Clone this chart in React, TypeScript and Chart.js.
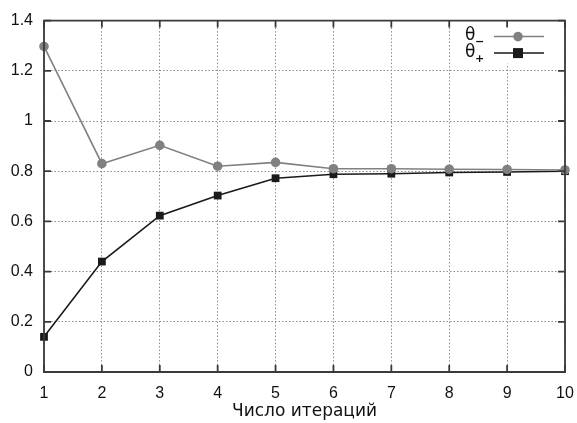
import React, { useEffect, useRef } from "react";
import { Chart, registerables } from "chart.js";
Chart.register(...registerables);

const iterations = [1, 2, 3, 4, 5, 6, 7, 8, 9, 10];
const thetaMinus = [1.297, 0.83, 0.903, 0.82, 0.835, 0.81, 0.81, 0.808, 0.807, 0.805];
const thetaPlus = [0.14, 0.44, 0.623, 0.703, 0.772, 0.788, 0.79, 0.795, 0.797, 0.8];
const yTickLabels = ["0", "0.2", "0.4", "0.6", "0.8", "1", "1.2", "1.4"];
const seriesNames = ["θ", "θ"];
const seriesSubs = ["−", "+"];
const xTitle = "Число итераций";

const TICKFONT = "'Liberation Sans', Arial, sans-serif";
const TITLEFONT = "'DejaVu Sans', sans-serif";
const GRAY = "#808080";
const DARK = "#1a1a1a";
const FRAME = "#3a3a3a";

const framePlugin = {
  id: "gnuFrame",
  beforeDatasetsDraw(chart: any) {
    const { ctx, chartArea: a } = chart;
    ctx.save();
    ctx.fillStyle = "#ffffff";
    ctx.fillRect(a.right - 105, a.top, 105, 43);
    ctx.restore();
  },
  afterDraw(chart: any) {
    const { ctx, chartArea: a, scales } = chart;
    const xs = scales.x;
    const ys = scales.y;
    ctx.save();
    ctx.strokeStyle = FRAME;
    ctx.lineWidth = 1.8;
    ctx.beginPath();
    ctx.rect(a.left, a.top, a.right - a.left, a.bottom - a.top);
    ctx.stroke();
    const tl = 7;
    ctx.beginPath();
    iterations.forEach((v) => {
      const px = xs.getPixelForValue(v);
      ctx.moveTo(px, a.bottom);
      ctx.lineTo(px, a.bottom - tl);
      ctx.moveTo(px, a.top);
      ctx.lineTo(px, a.top + tl);
    });
    yTickLabels.forEach((l) => {
      const py = ys.getPixelForValue(Number(l));
      ctx.moveTo(a.left, py);
      ctx.lineTo(a.left + tl, py);
      ctx.moveTo(a.right, py);
      ctx.lineTo(a.right - tl, py);
    });
    ctx.stroke();

    // legend
    const items = [
      { color: GRAY, shape: "circle" },
      { color: DARK, shape: "rect" },
    ];
    items.forEach((it, i) => {
      const cy = a.top + 16 + i * 16.5;
      ctx.fillStyle = "#111";
      ctx.font = `17px ${TITLEFONT}`;
      ctx.textBaseline = "middle";
      ctx.textAlign = "left";
      ctx.fillText(seriesNames[i], a.right - 100, cy - 1);
      ctx.font = `bold 11px ${TITLEFONT}`;
      ctx.fillText(seriesSubs[i], a.right - 90, cy + 6);
      ctx.strokeStyle = it.color;
      ctx.lineWidth = 1.5;
      ctx.beginPath();
      ctx.moveTo(a.right - 71, cy);
      ctx.lineTo(a.right - 21, cy);
      ctx.stroke();
      ctx.fillStyle = it.color;
      const mx = a.right - 47;
      if (it.shape === "circle") {
        ctx.beginPath();
        ctx.arc(mx, cy, 4.8, 0, Math.PI * 2);
        ctx.fill();
      } else {
        ctx.fillRect(mx - 5, cy - 5, 10, 10);
      }
    });
    ctx.restore();
  },
};

export default function App() {
  const ref = useRef<HTMLCanvasElement>(null);
  useEffect(() => {
    document.body.style.margin = "0";
    const chart = new Chart(ref.current!, {
      type: "line",
      data: {
        datasets: [
          {
            label: "θ₋",
            data: iterations.map((x, i) => ({ x, y: thetaMinus[i] })),
            borderColor: GRAY,
            backgroundColor: GRAY,
            borderWidth: 1.6,
            pointStyle: "circle",
            pointRadius: 4.8,
            pointBorderWidth: 0,
            clip: false,
          },
          {
            label: "θ₊",
            data: iterations.map((x, i) => ({ x, y: thetaPlus[i] })),
            borderColor: DARK,
            backgroundColor: DARK,
            borderWidth: 1.6,
            pointStyle: "rect",
            pointRadius: 5.5,
            pointBorderWidth: 0,
            clip: false,
          },
        ] as any,
      },
      options: {
        animation: false,
        responsive: false,
        maintainAspectRatio: false,
        layout: { padding: { left: 0, top: 20, right: 12, bottom: 0 } },
        plugins: { legend: { display: false }, tooltip: { enabled: false } },
        scales: {
          x: {
            type: "linear",
            min: 1,
            max: 10,
            afterBuildTicks: (s: any) => {
              s.ticks = iterations.map((v) => ({ value: v }));
            },
            afterFit: (s: any) => {
              s.height = 51;
              s.paddingRight = 0;
              s.paddingLeft = 0;
            },
            ticks: {
              padding: 12,
              color: "#111",
              font: { family: TICKFONT, size: 16 },
              maxRotation: 0,
              callback: (v: any) => String(v),
            },
            grid: { color: "#8c8c8c", drawTicks: false, lineWidth: 1 },
            border: { display: false, dash: [1.5, 2] },
            title: {
              display: true,
              text: xTitle,
              color: "#111",
              font: { family: TITLEFONT, size: 17 },
              padding: { top: 0, bottom: 1 },
            },
          },
          y: {
            type: "linear",
            min: 0,
            max: 1.4,
            afterBuildTicks: (s: any) => {
              s.ticks = yTickLabels.map((l) => ({ value: Number(l) }));
            },
            afterFit: (s: any) => {
              s.width = 44;
            },
            ticks: {
              padding: 11,
              color: "#111",
              font: { family: TICKFONT, size: 16 },
              callback: (v: any) => yTickLabels.find((l) => Math.abs(Number(l) - v) < 1e-6) ?? "",
            },
            grid: { color: "#8c8c8c", drawTicks: false, lineWidth: 1 },
            border: { display: false, dash: [1.5, 2] },
          },
        },
      } as any,
      plugins: [framePlugin],
    });
    return () => chart.destroy();
  }, []);
  return (
    <div style={{ position: "absolute", left: 0, top: 0, width: 577, height: 423 }}>
      <canvas ref={ref} width={577} height={423} />
    </div>
  );
}
